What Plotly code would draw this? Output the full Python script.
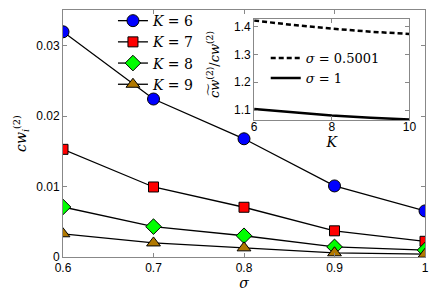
import plotly.graph_objects as go

sigma = [0.6, 0.7, 0.8, 0.9, 1.0]
cw_K6 = [0.0320, 0.02245, 0.0168, 0.0101, 0.00655]
cw_K7 = [0.0153, 0.00995, 0.00707, 0.00372, 0.00223]
cw_K8 = [0.00711, 0.00432, 0.00302, 0.00144, 0.00098]
cw_K9 = [0.0033, 0.0020, 0.0013, 0.0006, 0.0004]

K_inset = [6, 7, 8, 9, 10]
ratio_s05001 = [1.421, 1.405, 1.392, 1.381, 1.373]
ratio_s1 = [1.1045, 1.092, 1.081, 1.073, 1.067]

series = [
    ("<i>K</i> = 6", cw_K6, "circle", "#0000ff", 12),
    ("<i>K</i> = 7", cw_K7, "square", "#ff0000", 10),
    ("<i>K</i> = 8", cw_K8, "diamond", "#00ff00", 12),
    ("<i>K</i> = 9", cw_K9, "triangle-up", "#b07800", 12),
]

fig = go.Figure()
for name, ys, sym, col, sz in series:
    fig.add_trace(go.Scatter(
        x=sigma, y=ys, mode="lines+markers", name=name,
        line=dict(color="black", width=1.3),
        marker=dict(symbol=sym, color=col, size=sz, line=dict(color="black", width=1)),
        legend="legend",
    ))

fig.add_trace(go.Scatter(
    x=K_inset, y=ratio_s05001, mode="lines", name="<i>σ</i> = 0.5001",
    line=dict(color="black", width=2.5, dash="5px,3px"),
    xaxis="x2", yaxis="y2", legend="legend2",
))
fig.add_trace(go.Scatter(
    x=K_inset, y=ratio_s1, mode="lines", name="<i>σ</i> = 1",
    line=dict(color="black", width=2.5),
    xaxis="x2", yaxis="y2", legend="legend2",
))

axis_common = dict(
    showline=True, linecolor="#888888", linewidth=1, mirror="ticks",
    ticks="inside", ticklen=4, tickcolor="#888888", showgrid=False, zeroline=False,
    tickfont=dict(family="Liberation Sans, Arial", size=12, color="black"),
)

inset_dom_x = [0.528, 0.957]
inset_dom_y = [0.553, 0.963]

fig.update_layout(
    width=436, height=292,
    margin=dict(l=63, r=11, t=5, b=35),
    paper_bgcolor="white", plot_bgcolor="white",
    showlegend=True,
    xaxis=dict(range=[0.6, 1.0], tickvals=[0.6, 0.7, 0.8, 0.9, 1.0],
               ticktext=["0.6", "0.7", "0.8", "0.9", "1"],
               domain=[0, 1],
               title=dict(text="<i>σ</i>", font=dict(family="DejaVu Serif", size=14, color="black"), standoff=0),
               **axis_common),
    yaxis=dict(range=[0, 0.0351], tickvals=[0, 0.01, 0.02, 0.03],
               ticktext=["0", "0.01", "0.02", "0.03"], domain=[0, 1],
               title=dict(text="<i>cw</i><sub><i>i</i></sub><sup>(2)</sup>",
                          font=dict(family="DejaVu Serif", size=14, color="black"), standoff=6),
               **axis_common),
    xaxis2=dict(range=[6, 10], tickvals=[6, 8, 10], ticktext=["6", "8", "10"],
                domain=inset_dom_x, anchor="y2", ticklabelstandoff=-5,
                title=dict(text="<i>K</i>", font=dict(family="DejaVu Serif", size=14, color="black"), standoff=0),
                **axis_common),
    yaxis2=dict(range=[1.0635, 1.426], tickvals=[1.1, 1.2, 1.3, 1.4],
                ticktext=["1.1", "1.2", "1.3", "1.4"],
                domain=inset_dom_y, anchor="x2",
                **axis_common),
    legend=dict(x=0.138, y=1.02, xanchor="left", yanchor="top",
                bgcolor="rgba(0,0,0,0)", borderwidth=0, tracegroupgap=0,
                font=dict(family="DejaVu Serif", size=14, color="black"),
                itemwidth=30),
    legend2=dict(x=0.56, y=0.866, xanchor="left", yanchor="top",
                 bgcolor="rgba(0,0,0,0)", borderwidth=0,
                 font=dict(family="DejaVu Serif", size=13, color="black"),
                 itemwidth=30),
)

# inset y-axis title
fig.add_annotation(
    text="<i>c͠w</i><sup>(2)</sup>/<i>cw</i><sup>(2)</sup>",
    xref="paper", yref="paper", x=0.415, y=sum(inset_dom_y) / 2 + 0.02,
    textangle=-90, showarrow=False, xanchor="center", yanchor="middle",
    font=dict(family="DejaVu Serif", size=13, color="black"),
)

# inset background
fig.add_shape(type="rect", xref="x2 domain", yref="y2 domain", x0=0, x1=1, y0=0, y1=1,
              fillcolor="white", line=dict(width=0), layer="below")

fig.write_html("out.html", config={"displayModeBar": False},
               post_script="document.body.style.margin='0';")
